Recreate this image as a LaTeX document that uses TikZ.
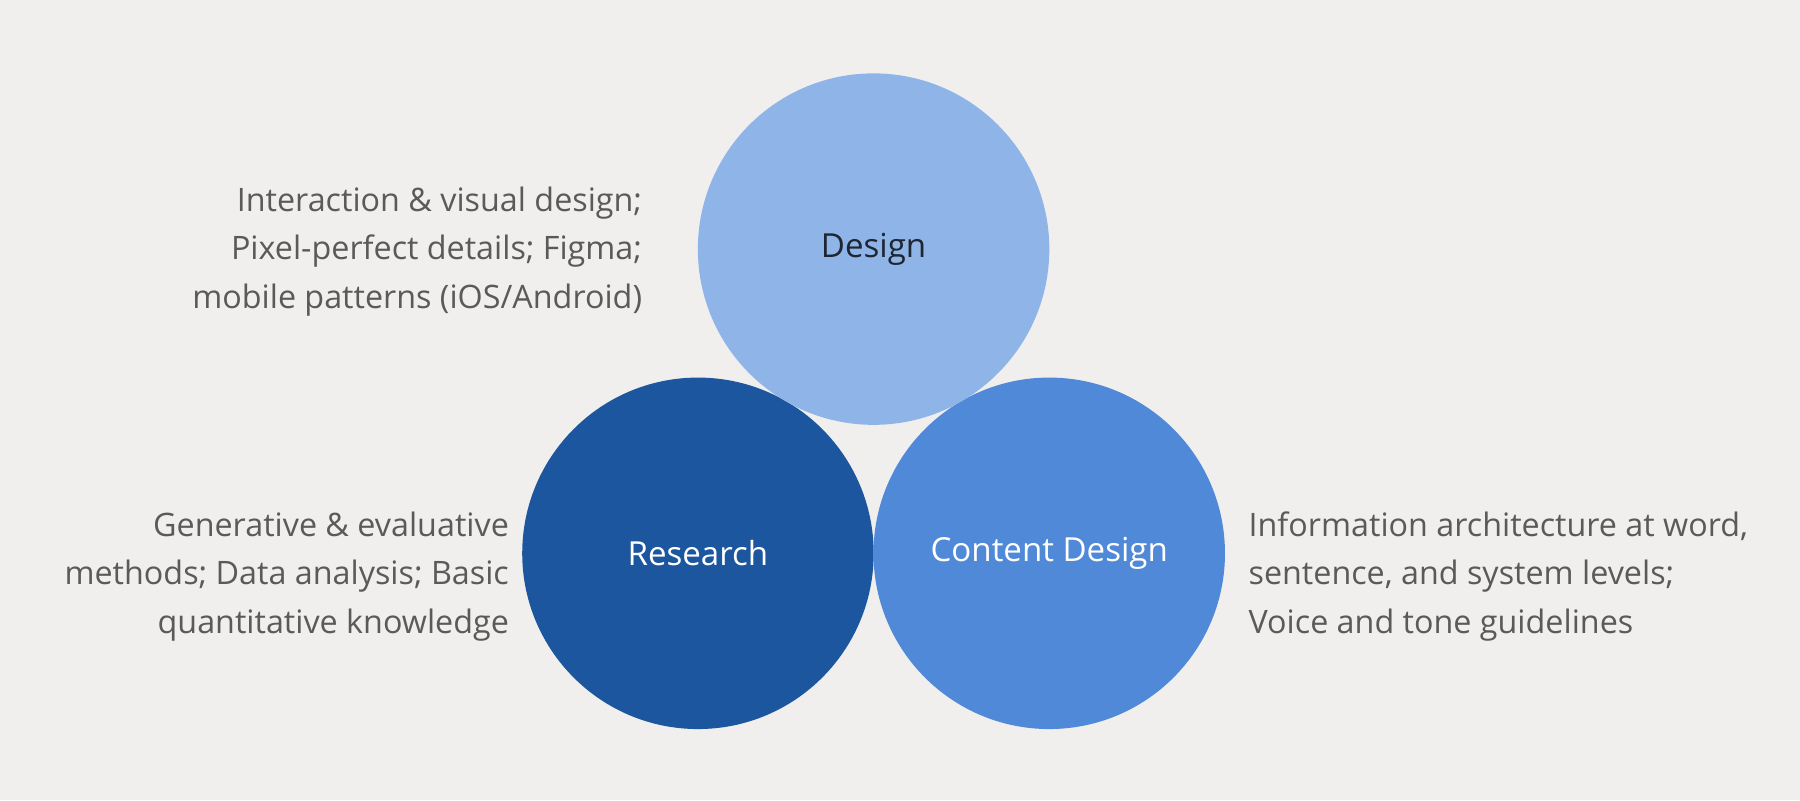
\documentclass[tikz,border=0pt]{standalone}
\usepackage{fontspec}
\setmainfont{Open Sans}
\definecolor{bg}{HTML}{F0EFEE}
\definecolor{cdes}{HTML}{8FB4E8}
\definecolor{cres}{HTML}{1B569E}
\definecolor{ccon}{HTML}{4F89D8}
\definecolor{txt}{HTML}{5A5A5A}
\definecolor{dark}{HTML}{1E2633}
\begin{document}
\begin{tikzpicture}[x=0.01cm,y=-0.01cm,
  circ/.style={circle,minimum size=3.06cm,inner sep=0pt},
  lab/.style={font=\fontsize{8.2pt}{10pt}\selectfont},
  desc/.style={font=\fontsize{8pt}{12pt}\selectfont,text=txt,inner sep=0pt}]
\fill[bg] (0,0) rectangle (1568,697);
\useasboundingbox (0,0) rectangle (1568,697);
\node[circ,fill=cres] (res) at (608,482) {};
\node[circ,fill=ccon] (con) at (914,482) {};
\node[circ,fill=cdes] (des) at (761,217) {};
\node[lab,text=dark] (dl) at (des.center) {Design};
\node[lab,text=white] (rl) at (res.center) {Research};
\node[lab,text=white] (cl) at (con.center) {Content Design};
\node[desc,align=right,anchor=east] (dt) at (560,219) {Interaction \& visual design;\\Pixel-perfect details; Figma;\\mobile patterns (iOS/Android)};
\node[desc,align=right,anchor=east] (rt) at (444,502) {Generative \& evaluative\\methods; Data analysis; Basic\\quantitative knowledge};
\node[desc,align=left,anchor=west] (ct) at (1087,502) {Information architecture at word,\\sentence, and system levels;\\Voice and tone guidelines};
\end{tikzpicture}
\end{document}
